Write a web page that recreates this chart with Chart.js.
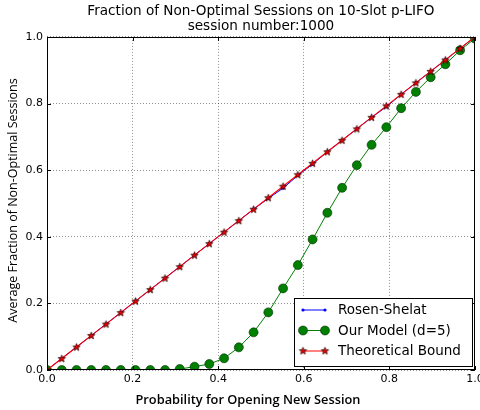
<!DOCTYPE html>
<html><head><meta charset="utf-8">
<script src="https://cdn.jsdelivr.net/npm/chart.js@4/dist/chart.umd.min.js"></script>
<style>html,body{margin:0;padding:0;background:#fff}#w{width:480px;height:410px}</style>
</head><body><div id="w"><canvas id="c" width="480" height="410"></canvas></div>
<script>
// ---- data ----
const probability = [0, 0.0345, 0.069, 0.1034, 0.1379, 0.1724, 0.2069, 0.2414, 0.2759, 0.3103,
  0.3448, 0.3793, 0.4138, 0.4483, 0.4828, 0.5172, 0.5517, 0.5862, 0.6207, 0.6552,
  0.6897, 0.7241, 0.7586, 0.7931, 0.8276, 0.8621, 0.8966, 0.931, 0.9655, 1.0];
const rosenShelat = [0, 0.0345, 0.069, 0.1034, 0.1379, 0.1724, 0.2069, 0.2414, 0.2759, 0.3103,
  0.3448, 0.3793, 0.4138, 0.4483, 0.4828, 0.5150, 0.5460, 0.5840, 0.6180, 0.6552,
  0.6897, 0.7241, 0.7586, 0.7900, 0.8276, 0.8621, 0.8966, 0.931, 0.9655, 1.0];
const ourModel = [0, 0, 0, 0, 0, 0, 0, 0, 0, 0.003,
  0.010, 0.018, 0.035, 0.068, 0.113, 0.173, 0.245, 0.315, 0.392, 0.472,
  0.547, 0.615, 0.676, 0.729, 0.786, 0.835, 0.879, 0.918, 0.960, 0.995];
const theoreticalBound = [0, 0.0345, 0.069, 0.1034, 0.1379, 0.1724, 0.2069, 0.2414, 0.2759, 0.3103,
  0.3448, 0.3793, 0.4138, 0.4483, 0.4828, 0.5172, 0.5517, 0.5862, 0.6207, 0.6552,
  0.6897, 0.7241, 0.7586, 0.7931, 0.8276, 0.8621, 0.8966, 0.931, 0.9655, 1.0];
const seriesNames = ['Rosen-Shelat', 'Our Model (d=5)', 'Theoretical Bound'];
const xTickValues = [0, 0.2, 0.4, 0.6, 0.8, 1.0];
const xTickLabels = ['0.0', '0.2', '0.4', '0.6', '0.8', '1.0'];
const yTickValues = [0, 0.2, 0.4, 0.6, 0.8, 1.0];
const yTickLabels = ['0.0', '0.2', '0.4', '0.6', '0.8', '1.0'];
const titleLines = ['Fraction of Non-Optimal Sessions on 10-Slot p-LIFO', 'session number:1000'];
const xAxisTitle = 'Probability for Opening New Session';
const yAxisTitle = 'Average Fraction of Non-Optimal Sessions';

// ---- styles ----
function makeStar() {
  const c = document.createElement('canvas');
  c.width = 11; c.height = 11;
  const g = c.getContext('2d');
  g.beginPath();
  for (let k = 0; k < 10; k++) {
    const r = k % 2 === 0 ? 3.9 : 1.6;
    const a = -Math.PI / 2 + k * Math.PI / 5;
    const px = 5.5 + r * Math.cos(a), py = 5.8 + r * Math.sin(a);
    if (k === 0) g.moveTo(px, py); else g.lineTo(px, py);
  }
  g.closePath();
  g.fillStyle = '#ee0000'; g.fill();
  g.lineWidth = 0.7; g.strokeStyle = '#200'; g.stroke();
  return c;
}
const starImg = makeStar();
const toPts = (xs, ys) => xs.map((x, i) => ({x: x, y: ys[i]}));

const styles = {
  'Rosen-Shelat': {color: '#0000ff', marker: 'dot'},
  'Our Model (d=5)': {color: '#008000', marker: 'circle'},
  'Theoretical Bound': {color: '#ff0000', marker: 'star'}
};

function drawMarker(g, kind, x, y) {
  if (kind === 'star') { g.drawImage(starImg, x - 5.5, y - 5.8); return; }
  g.beginPath();
  if (kind === 'circle') {
    g.arc(x, y, 4.5, 0, Math.PI * 2);
    g.fillStyle = '#008000'; g.fill();
    g.lineWidth = 0.6; g.strokeStyle = '#002a00'; g.stroke();
  } else {
    g.arc(x, y, 1.6, 0, Math.PI * 2);
    g.fillStyle = '#0000ff'; g.fill();
  }
}

const decor = {
  id: 'decor',
  afterDraw(chart) {
    const g = chart.ctx, a = chart.chartArea;
    const xs = chart.scales.x, ys = chart.scales.y;
    g.save();
    // inward ticks
    g.strokeStyle = '#000'; g.lineWidth = 1;
    g.beginPath();
    xTickValues.forEach(v => {
      const px = Math.round(xs.getPixelForValue(v)) + 0.5;
      g.moveTo(px, a.bottom); g.lineTo(px, a.bottom - 4);
      g.moveTo(px, a.top); g.lineTo(px, a.top + 4);
    });
    yTickValues.forEach(v => {
      const py = Math.round(ys.getPixelForValue(v)) + 0.5;
      g.moveTo(a.left, py); g.lineTo(a.left + 4, py);
      g.moveTo(a.right, py); g.lineTo(a.right - 4, py);
    });
    g.stroke();
    // frame
    g.strokeStyle = '#000'; g.lineWidth = 1;
    g.strokeRect(Math.round(a.left) + 0.5, Math.round(a.top) + 0.5,
                 Math.round(a.right - a.left) - 1, Math.round(a.bottom - a.top) - 1);
    // axis titles
    g.fillStyle = '#000';
    g.font = '600 12.8px "Open Sans"';
    g.textAlign = 'center'; g.textBaseline = 'middle';
    g.fillText(xAxisTitle, (a.left + a.right) / 2 - 13, 400);
    g.save();
    g.translate(13.5, (a.top + a.bottom) / 2 - 3);
    g.rotate(-Math.PI / 2);
    g.font = '12.5px "Open Sans"';
    g.fillText(yAxisTitle, 0, 0);
    g.restore();
    // legend
    const bx = 294.5, by = 298.5, bw = 178, bh = 68;
    g.fillStyle = '#fff'; g.fillRect(bx, by, bw, bh);
    g.strokeStyle = '#000'; g.lineWidth = 1; g.strokeRect(bx, by, bw, bh);
    g.font = '13.5px "DejaVu Sans"'; g.textAlign = 'left'; g.textBaseline = 'middle';
    seriesNames.forEach((name, i) => {
      const st = styles[name];
      const y = 310 + i * 20.5;
      g.beginPath(); g.moveTo(303, y); g.lineTo(325, y);
      g.strokeStyle = st.color; g.lineWidth = 1; g.stroke();
      drawMarker(g, st.marker, 303, y);
      drawMarker(g, st.marker, 325, y);
      g.fillStyle = '#000';
      g.fillText(name, 338, y + 0.5);
    });
    g.restore();
  }
};

new Chart(document.getElementById('c'), {
  type: 'line',
  data: {
    datasets: [
      {label: 'Theoretical Bound', data: toPts(probability, theoreticalBound), borderColor: '#ff0000',
       borderWidth: 1.1, pointStyle: starImg, pointRadius: 4, order: 0, tension: 0},
      {label: 'Our Model (d=5)', data: toPts(probability, ourModel), borderColor: '#008000',
       borderWidth: 1, pointBackgroundColor: '#008000', pointBorderColor: '#002a00', pointBorderWidth: 0.6,
       pointRadius: 4.5, order: 1, tension: 0},
      {label: 'Rosen-Shelat', data: toPts(probability, rosenShelat), borderColor: '#0000ff',
       borderWidth: 1, pointBackgroundColor: '#0000ff', pointBorderColor: '#0000ff', pointBorderWidth: 0,
       pointRadius: 1.6, order: 2, tension: 0}
    ]
  },
  options: {
    responsive: false, animation: false, devicePixelRatio: 1,
    layout: {padding: {left: 0, right: 3, top: 0, bottom: 0}},
    plugins: {
      legend: {display: false}, tooltip: {enabled: false},
      title: {display: true, fullSize: false, text: titleLines, color: '#000',
        font: {family: 'DejaVu Sans', size: 13.6, weight: 'normal', lineHeight: 1.1},
        padding: {top: 4, bottom: 3}}
    },
    scales: {
      x: {
        type: 'linear', min: 0, max: 1,
        afterBuildTicks: s => { s.ticks = xTickValues.map(v => ({value: v})); },
        afterFit: s => { s.height = 40; s.paddingLeft = 0; s.paddingRight = 0; },
        ticks: {color: '#000', font: {family: 'DejaVu Sans', size: 11}, padding: 3,
          maxRotation: 0, autoSkip: false,
          callback: (v, i) => xTickLabels[i]},
        grid: {color: 'rgba(0,0,0,0.55)', lineWidth: 0.8, drawTicks: false, tickLength: 0},
        border: {display: false, dash: [1, 2]}
      },
      y: {
        type: 'linear', min: 0, max: 1,
        afterBuildTicks: s => { s.ticks = yTickValues.map(v => ({value: v})); },
        afterFit: s => { s.width = 47; s.paddingTop = 0; s.paddingBottom = 0; },
        ticks: {color: '#000', font: {family: 'DejaVu Sans', size: 11}, padding: 4,
          autoSkip: false, callback: (v, i) => yTickLabels[i]},
        grid: {color: 'rgba(0,0,0,0.55)', lineWidth: 0.8, drawTicks: false, tickLength: 0},
        border: {display: false, dash: [1, 2]}
      }
    }
  },
  plugins: [decor]
});
</script>
</body></html>
